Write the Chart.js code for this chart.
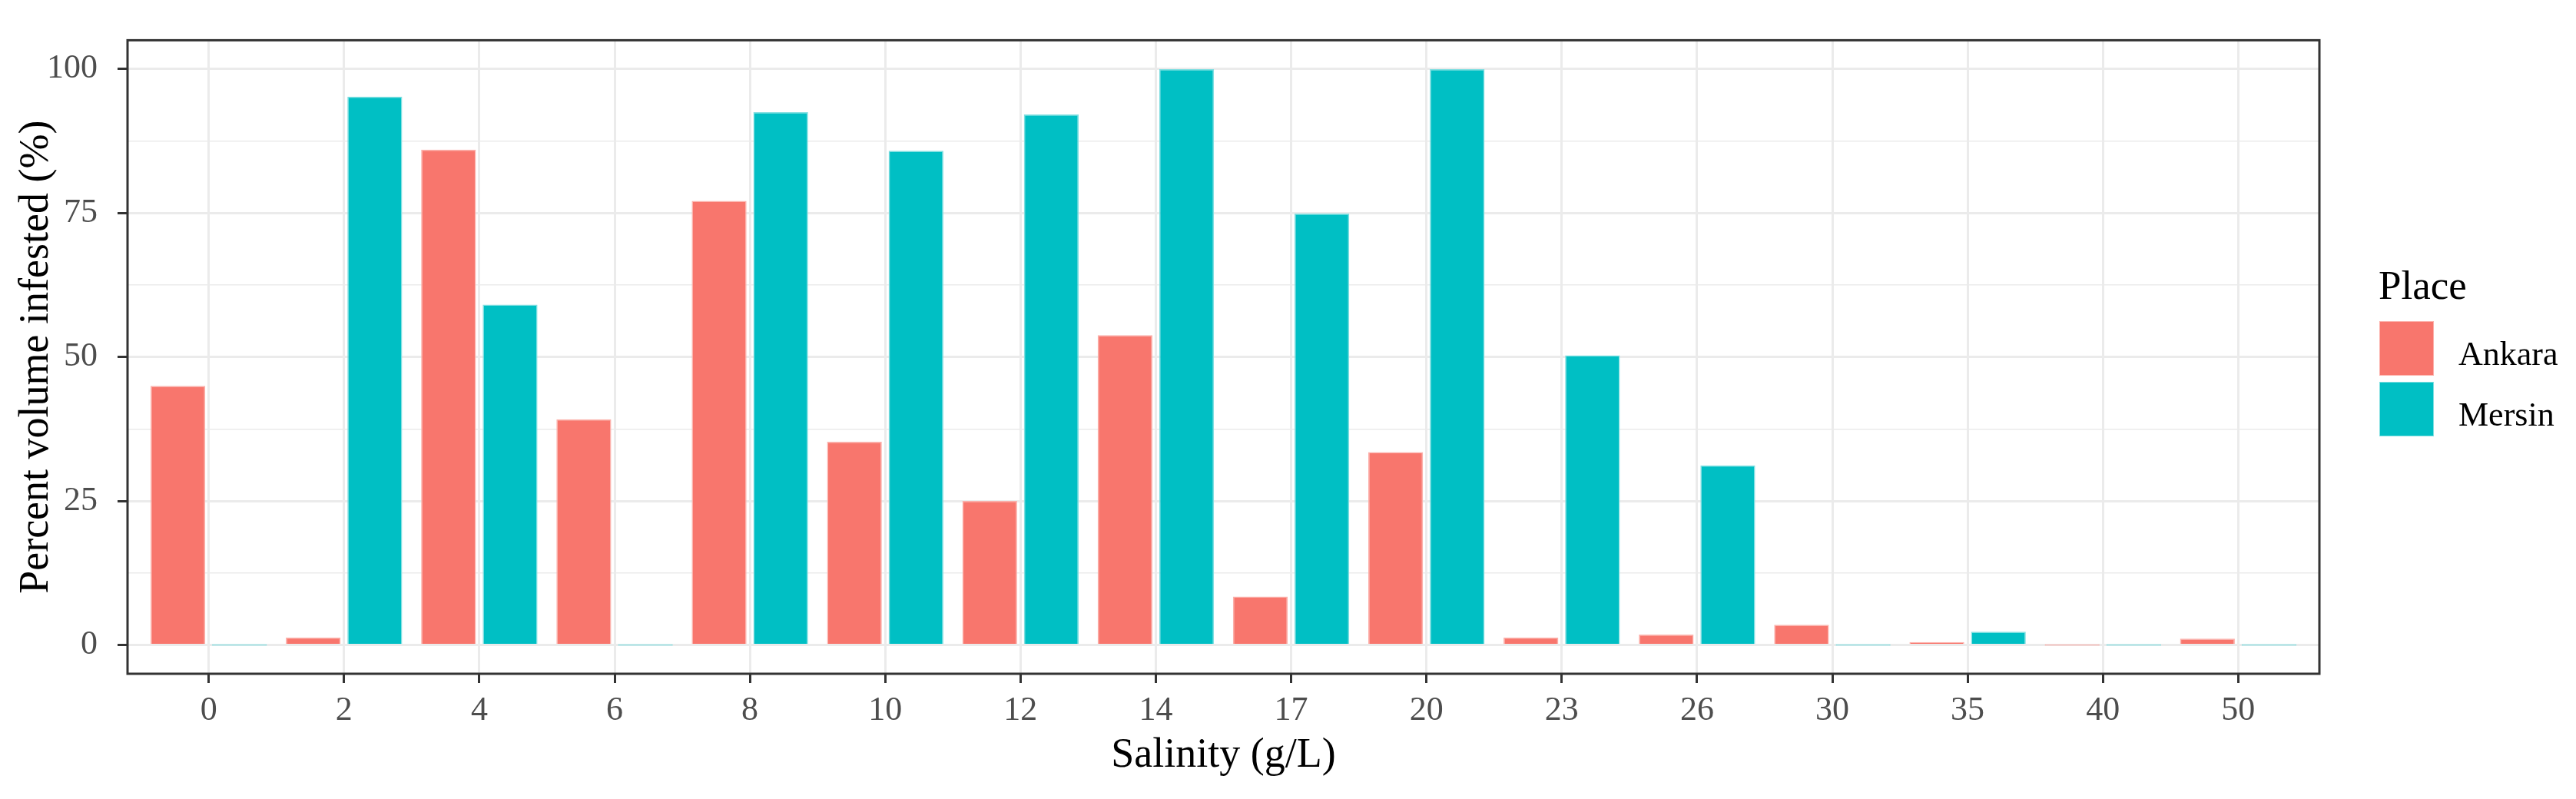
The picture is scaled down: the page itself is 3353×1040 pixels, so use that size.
<!DOCTYPE html>
<html>
<head>
<meta charset="utf-8">
<title>Percent volume infested by salinity</title>
<script src="https://cdn.jsdelivr.net/npm/chart.js@4.4.1/dist/chart.umd.min.js"></script>
<style>
  html, body { margin: 0; padding: 0; background: #fff; }
  #wrap { position: relative; width: 3353px; height: 1040px; }
  #legend { position: absolute; left: 0; top: 0; font-family: "Liberation Serif", "Times New Roman", serif; color: #000; }
  .lg-title { position: absolute; left: 3096px; top: 345px; font-size: 53px; line-height: 53px; white-space: nowrap; }
  .lg-key { position: absolute; left: 3097px; width: 71px; height: 71px; box-sizing: border-box; border: 1.5px solid; }
  .lg-text { position: absolute; left: 3200px; font-size: 44px; line-height: 44px; white-space: nowrap; }
</style>
</head>
<body>
<div id="wrap">
  <canvas id="chart"></canvas>
  <div id="legend"></div>
</div>
<script>
/* data */
const salinity = ["0", "2", "4", "6", "8", "10", "12", "14", "17", "20", "23", "26", "30", "35", "40", "50"];
const ankara = [45.0, 1.3, 86.0, 39.2, 77.1, 35.3, 25.0, 53.8, 8.4, 33.5, 1.3, 1.8, 3.5, 0.5, 0, 1.1];
const mersin = [0, 95.2, 59.1, 0, 92.5, 85.8, 92.1, 100, 74.9, 100, 50.3, 31.2, 0, 2.3, 0, 0];
const yMajor = [0, 25, 50, 75, 100];
const yMinor = [12.5, 37.5, 62.5, 87.5];
const places = ["Ankara", "Mersin"];

const FONT = "'Liberation Serif', 'Times New Roman', serif";
const fills = ["#F8766D", "#00BFC4"];
const edges = ["#FCB0AA", "#80DFE1"];
const series = [ankara, mersin];

/* ggplot-like panel border */
const panelBorder = {
  id: "panelBorder",
  afterDatasetsDraw(chart) {
    const a = chart.chartArea;
    const ctx = chart.ctx;
    ctx.save();
    ctx.strokeStyle = "#333333";
    ctx.lineWidth = 3;
    ctx.strokeRect(a.left, a.top, a.right - a.left, a.bottom - a.top);
    ctx.restore();
  }
};

const isMajor = (c) => c.tick && yMajor.includes(c.tick.value);

const chart = new Chart(document.getElementById("chart"), {
  type: "bar",
  data: {
    datasets: places.map((p, k) => ({
      label: p,
      data: series[k].map((v, i) => ({ x: i, y: v })),
      backgroundColor: (c) => (c.raw && c.raw.y === 0 ? edges[k] : fills[k]),
      borderColor: edges[k],
      borderWidth: 1.5,
      minBarLength: 2,
      categoryPercentage: 0.91,
      barPercentage: 0.89
    }))
  },
  options: {
    responsive: true,
    maintainAspectRatio: false,
    animation: false,
    layout: { padding: { left: 0, right: 334, top: 32, bottom: 0 } },
    plugins: { legend: { display: false }, tooltip: { enabled: false } },
    scales: {
      x: {
        type: "linear",
        min: -0.6, max: 15.6,
        offset: false,
        afterBuildTicks: (s) => { s.ticks = salinity.map((_, i) => ({ value: i })); },
        afterFit: (s) => { s.height = 163; },
        border: { display: false },
        grid: { color: "#EBEBEB", lineWidth: 3, offset: false, tickLength: 12, tickColor: "#333333", tickWidth: 3 },
        ticks: {
          callback: (v) => salinity[v],
          color: "#4D4D4D", font: { family: FONT, size: 44 },
          padding: 10, autoSkip: false, maxRotation: 0
        },
        title: {
          display: true, text: "Salinity (g/L)", color: "#000",
          font: { family: FONT, size: 54 }, padding: { top: 0, bottom: 24 }
        }
      },
      y: {
        min: -5, max: 105,
        afterBuildTicks: (s) => {
          s.ticks = yMajor.concat(yMinor).sort((a, b) => a - b).map((v) => ({ value: v }));
        },
        afterFit: (s) => { s.width = 166; },
        border: { display: false },
        grid: {
          color: "#EBEBEB",
          lineWidth: (c) => (isMajor(c) ? 3 : 1.6),
          tickLength: 13,
          tickColor: (c) => (isMajor(c) ? "#333333" : "rgba(0,0,0,0)"),
          tickWidth: 3
        },
        ticks: {
          callback: (v) => (yMajor.includes(v) ? String(v) : ""),
          color: "#4D4D4D", font: { family: FONT, size: 44 }, padding: 26
        },
        title: {
          display: true, text: "Percent volume infested (%)", color: "#000",
          font: { family: FONT, size: 54 }, padding: { top: 15, bottom: 0 }
        }
      }
    }
  },
  plugins: [panelBorder]
});

/* legend, ggplot style, built from the datasets */
const lg = document.getElementById("legend");
const t = document.createElement("div");
t.className = "lg-title";
t.textContent = "Place";
lg.appendChild(t);
chart.data.datasets.forEach((d, i) => {
  const key = document.createElement("div");
  key.className = "lg-key";
  key.style.top = (418 + i * 79) + "px";
  key.style.background = fills[i];
  key.style.borderColor = edges[i];
  lg.appendChild(key);
  const txt = document.createElement("div");
  txt.className = "lg-text";
  txt.style.top = (439 + i * 79) + "px";
  txt.textContent = d.label;
  lg.appendChild(txt);
});
</script>
</body>
</html>
